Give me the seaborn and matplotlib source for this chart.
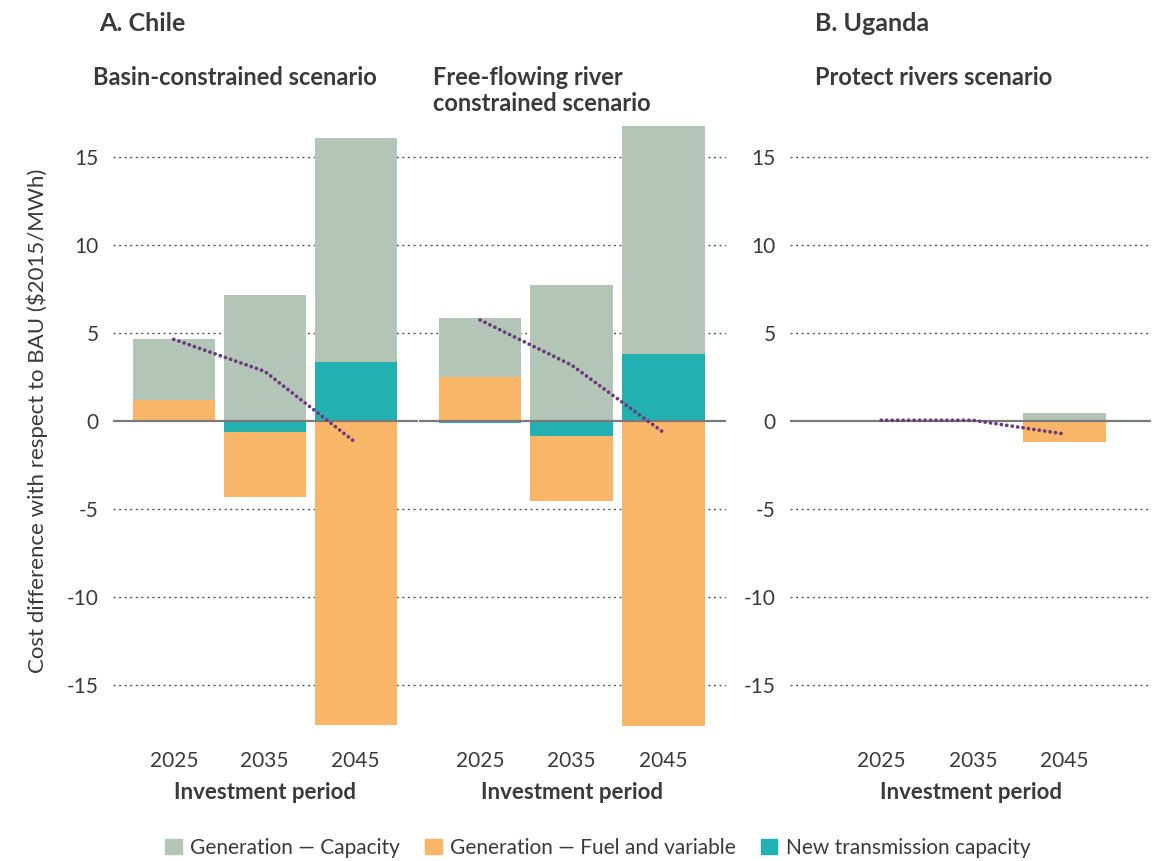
import numpy as np
import pandas as pd
import matplotlib
matplotlib.use("Agg")
import matplotlib.pyplot as plt
from matplotlib.patches import Patch
import seaborn as sns

sns.set_theme(style="white")
plt.rcParams['font.family'] = ['Lato', 'DejaVu Sans']

# Data
years = ["2025", "2035", "2045"]

basin_capacity = [3.45, 7.16, 12.73]
basin_fuel = [1.2, -3.7, -17.3]
basin_trans = [0.0, -0.63, 3.35]

ff_capacity = [3.35, 7.73, 12.96]
ff_fuel = [2.5, -3.71, -17.4]
ff_trans = [-0.1, -0.84, 3.8]

uganda_capacity = [0.0, 0.0, 0.45]
uganda_fuel = [0.05, 0.05, -1.18]
uganda_trans = [0.0, 0.0, 0.0]

labels = ["Generation \u2014 Capacity", "Generation \u2014 Fuel and variable",
          "New transmission capacity"]
colors = {"cap": "#b3c5b7", "fuel": "#f9b668", "trans": "#22b0b0"}
net_color = "#6b3a7d"
text_color = "#3a3a3a"

fig = plt.figure(figsize=(11.63, 8.61), dpi=100)
bottom, height = 0.1568, 0.7096
ax1 = fig.add_axes([0.097, bottom, 0.262, height])
ax2 = fig.add_axes([0.360, bottom, 0.264, height])
ax3 = fig.add_axes([0.679, bottom, 0.311, height])


def draw_panel(ax, cap, fuel, trans, xlim):
    x = np.arange(len(years))
    comps = {"cap": np.array(cap), "fuel": np.array(fuel), "trans": np.array(trans)}
    pos_bottom = np.zeros(len(x))
    neg_bottom = np.zeros(len(x))
    # positives stacked fuel -> transmission -> capacity, negatives transmission -> fuel
    for key in ["fuel", "trans", "cap"]:
        v = np.clip(comps[key], 0, None)
        ax.bar(x, v, width=0.9, bottom=pos_bottom, color=colors[key], zorder=2, linewidth=0)
        pos_bottom += v
    for key in ["trans", "fuel", "cap"]:
        v = np.clip(comps[key], None, 0)
        ax.bar(x, v, width=0.9, bottom=neg_bottom, color=colors[key], zorder=2, linewidth=0)
        neg_bottom += v
    net = comps["cap"] + comps["fuel"] + comps["trans"]
    df = pd.DataFrame({"x": x, "net": net})
    sns.lineplot(data=df, x="x", y="net", ax=ax, color=net_color, linewidth=2.7,
                 linestyle=(0, (0.01, 1.45)), dash_capstyle="round", zorder=4)

    ax.axhline(0, color="#7a7a7a", linewidth=1.6, zorder=3)
    for g in [-15, -10, -5, 5, 10, 15]:
        ax.axhline(g, color="#555555", linewidth=1.0, linestyle=(0, (1.5, 2.5)), zorder=1)
    ax.set_xlim(*xlim)
    ax.set_ylim(-17.33, 17.4)
    ax.set_xticks(x)
    ax.set_xticklabels(years, fontsize=15, color=text_color)
    ax.set_yticks([-15, -10, -5, 0, 5, 10, 15])
    ax.set_yticklabels(["-15", "-10", "-5", "0", "5", "10", "15"], fontsize=15, color=text_color)
    ax.tick_params(axis="both", length=0, pad=10)
    ax.tick_params(axis="x", pad=18)
    ax.set_xlabel("Investment period", fontsize=16, fontweight="bold", color=text_color, labelpad=8)
    ax.set_ylabel("")
    for s in ax.spines.values():
        s.set_visible(False)


draw_panel(ax1, basin_capacity, basin_fuel, basin_trans, (-0.67, 2.68))
draw_panel(ax2, ff_capacity, ff_fuel, ff_trans, (-0.67, 2.68))
draw_panel(ax3, uganda_capacity, uganda_fuel, uganda_trans, (-1.0, 2.95))
ax2.set_yticklabels([])

ax1.set_ylabel("Cost difference with respect to BAU ($2015/MWh)", fontsize=16,
               color=text_color, labelpad=14)

fig.text(0.085, 0.986, "A. Chile", fontsize=18, fontweight="bold", color=text_color, va="top")
fig.text(0.701, 0.986, "B. Uganda", fontsize=18, fontweight="bold", color=text_color, va="top")
fig.text(0.080, 0.923, "Basin-constrained scenario", fontsize=17, fontweight="bold",
         color=text_color, va="top")
fig.text(0.372, 0.923, "Free-flowing river\nconstrained scenario", fontsize=17,
         fontweight="bold", color=text_color, va="top", linespacing=1.15)
fig.text(0.701, 0.923, "Protect rivers scenario", fontsize=17, fontweight="bold",
         color=text_color, va="top")

handles = [Patch(color=colors[k]) for k in ["cap", "fuel", "trans"]]
leg = fig.legend(handles, labels, loc="lower center", bbox_to_anchor=(0.514, -0.018), ncol=3,
                 frameon=False, fontsize=15, handlelength=0.8, handleheight=0.8,
                 handletextpad=0.4, columnspacing=1.2)
for t in leg.get_texts():
    t.set_color(text_color)

fig.savefig("out.png", dpi=100)
